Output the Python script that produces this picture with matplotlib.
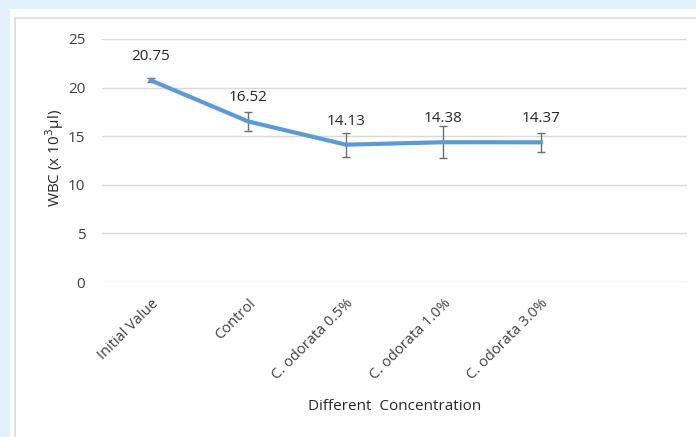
import matplotlib.pyplot as plt
from matplotlib.patches import Rectangle

# WBC counts by treatment group
groups = ['Initial Value', 'Control', 'C. odorata 0.5%',
          'C. odorata 1.0%', 'C. odorata 3.0%']
wbc = [20.75, 16.52, 14.13, 14.38, 14.37]
wbc_err = [0.2, 0.95, 1.25, 1.65, 1.0]
labels = ['20.75', '16.52', '14.13', '14.38', '14.37']

plt.rcParams['font.family'] = ['Open Sans', 'DejaVu Sans']

fig = plt.figure(figsize=(6.96, 4.37), dpi=100)
fig.patch.set_facecolor('#e0f1fa')

# white chart panel with a thin grey frame, kept behind the axes
fig.patches.append(Rectangle((10 / 696, 0), 1, 1 - 9 / 437,
                             transform=fig.transFigure, zorder=-2,
                             facecolor='white', edgecolor='none'))
fig.patches.append(Rectangle((14.5 / 696, -0.1), 1, 1.1 - 18.5 / 437,
                             transform=fig.transFigure, fill=False, zorder=-1,
                             edgecolor='#d9d9d9', linewidth=1.2))

ax = fig.add_axes([102 / 696, 1 - 282 / 437, 585 / 696, 243 / 437])
ax.set_facecolor('none')

x = list(range(len(groups)))
ax.errorbar(x, wbc, yerr=wbc_err, color='#5b9bd5', linewidth=3,
            ecolor='#6e6e6e', elinewidth=1.0, capsize=3, capthick=1.0,
            zorder=3)
# value labels sit a fixed distance above each point
for xi, yi, lab in zip(x, wbc, labels):
    ax.annotate(lab, (xi, yi), xytext=(0, 17), textcoords='offset points',
                ha='center', va='center', fontsize=11, color='#262626')

ax.set_xlim(-0.5, 5.5)
ax.set_ylim(0, 25)
ax.set_yticks([0, 5, 10, 15, 20, 25])
ax.set_xticks(x)
ax.set_xticklabels(groups, rotation=45, ha='right', rotation_mode='anchor',
                   fontsize=10.5, color='#404040')
ax.tick_params(axis='y', labelsize=11, labelcolor='#404040', length=0, pad=12)
ax.tick_params(axis='x', length=0, pad=10)
ax.grid(axis='y', color='#d9d9d9', linewidth=1.0)
ax.set_axisbelow(True)
for s in ax.spines.values():
    s.set_visible(False)

fig.text(55 / 696, 1 - 158 / 437, 'WBC (x 10$^3$µl)', rotation=90,
         ha='center', va='center', fontsize=11, color='#262626')
fig.text(395 / 696, 1 - 407 / 437, 'Different  Concentration', ha='center',
         va='center', fontsize=11, color='#262626')

fig.savefig('out.png', dpi=100, facecolor=fig.get_facecolor())
